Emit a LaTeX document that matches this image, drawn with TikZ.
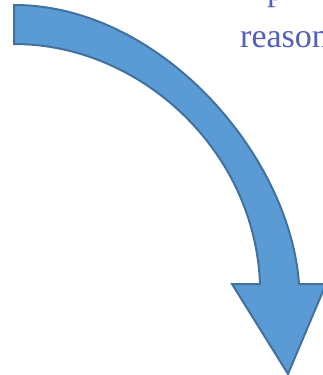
\documentclass[tikz,border=0pt]{standalone}
\usepackage{fontspec}
\setmainfont{Liberation Serif}
\definecolor{arrowfill}{HTML}{5B9BD5}
\definecolor{arrowline}{HTML}{41719C}
\definecolor{txtblue}{RGB}{84,95,185}
\begin{document}
\begin{tikzpicture}[x=1pt,y=-1pt,
  bigarrow/.style={fill=arrowfill,draw=arrowline,line width=2pt,line join=miter},
  txt/.style={text=txtblue,font=\fontsize{34}{40}\selectfont,inner sep=0pt,anchor=base west}]
\useasboundingbox (0,0) rectangle (323,375);
\clip (0,0) rectangle (323,375);
\draw[bigarrow] (14,5) .. controls (160,5) and (290,155) .. (299,284)
  -- (326,284) -- (288,374) -- (232,284) -- (260,284)
  .. controls (255,150) and (140,44) .. (14,44) -- cycle;
\node[txt] (l1) at (267,0) {p};
\node[txt] (l2) at (240,47) {reason};
\end{tikzpicture}
\end{document}
